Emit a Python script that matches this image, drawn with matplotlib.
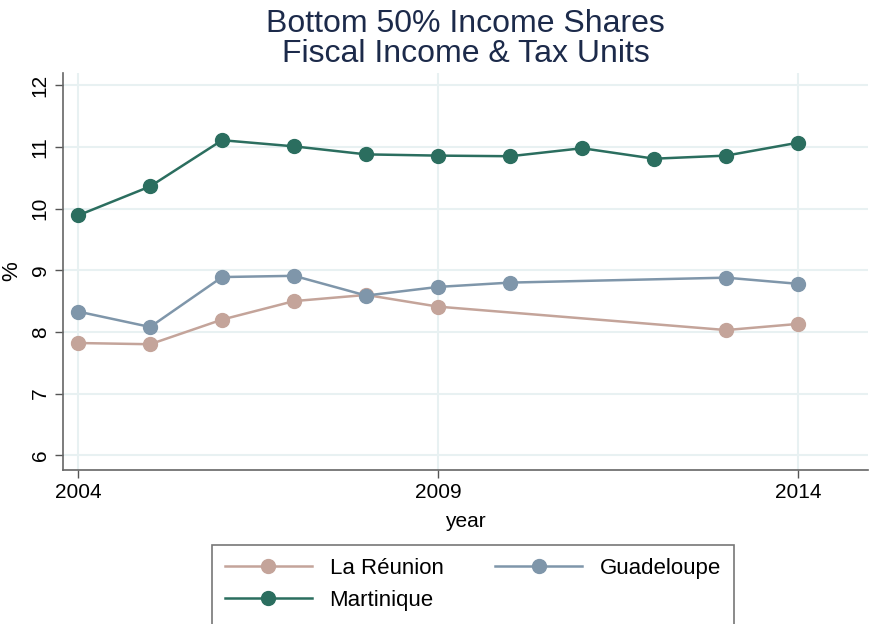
import matplotlib
matplotlib.use("Agg")
import matplotlib.pyplot as plt

plt.rcParams['font.family'] = ['Liberation Sans', 'DejaVu Sans']

# Données
years_reunion = [2004, 2005, 2006, 2007, 2008, 2009, 2013, 2014]
reunion = [7.82, 7.80, 8.20, 8.50, 8.60, 8.41, 8.03, 8.13]

years_guadeloupe = [2004, 2005, 2006, 2007, 2008, 2009, 2010, 2013, 2014]
guadeloupe = [8.33, 8.08, 8.89, 8.91, 8.59, 8.73, 8.80, 8.88, 8.78]

years_martinique = list(range(2004, 2015))
martinique = [9.89, 10.36, 11.11, 11.01, 10.88, 10.86, 10.85, 10.98, 10.81, 10.86, 11.07]

xticks = [2004, 2009, 2014]
yticks = [6, 7, 8, 9, 10, 11, 12]

fig = plt.figure(figsize=(8.86, 6.24), dpi=100)
ax = fig.add_axes([0.0711, 0.2468, 0.9086, 0.6362])

l1, = ax.plot(years_reunion, reunion, color='#c4a49a', marker='o', markersize=10, lw=1.8, label='La Réunion')
l2, = ax.plot(years_guadeloupe, guadeloupe, color='#7f96aa', marker='o', markersize=10, lw=1.8, label='Guadeloupe')
l3, = ax.plot(years_martinique, martinique, color='#2b6e5f', marker='o', markersize=10, lw=1.8, label='Martinique')

ax.set_xlim(2003.79, 2014.97)
ax.set_ylim(5.76, 12.2)
ax.set_xticks(xticks)
ax.set_yticks(yticks)
ax.tick_params(axis='both', labelsize=15, color='#555555', length=6, width=1)
ax.tick_params(axis='y', labelrotation=90)
for lab in ax.get_yticklabels():
    lab.set_va('center')

ax.grid(True, color='#e8f1f2', lw=1.5)
ax.set_axisbelow(True)
for s in ['top', 'right']:
    ax.spines[s].set_visible(False)
for s in ['left', 'bottom']:
    ax.spines[s].set_color('#666666')
    ax.spines[s].set_linewidth(1.2)

ax.set_xlabel('year', fontsize=15, labelpad=7)
ax.set_ylabel('%', fontsize=16, labelpad=6)
ax.set_title('Bottom 50% Income Shares\nFiscal Income & Tax Units', fontsize=23, color='#1c2a4a',
             linespacing=1.0, pad=8)

# ordre colonne par colonne pour obtenir La Réunion / Guadeloupe sur la 1re ligne
leg = fig.legend([l1, l3, l2], ['La Réunion', 'Martinique', 'Guadeloupe'],
                 loc='upper left', bbox_to_anchor=(0.239, 0.006, 0.590, 0.121), mode='expand',
                 borderaxespad=0, ncol=2, fontsize=16, frameon=True, fancybox=False,
                 edgecolor='#555555', handlelength=3.9, columnspacing=1.5, borderpad=0.6,
                 labelspacing=0.5)
leg.get_frame().set_linewidth(1.2)

fig.savefig('out.png', dpi=100)
